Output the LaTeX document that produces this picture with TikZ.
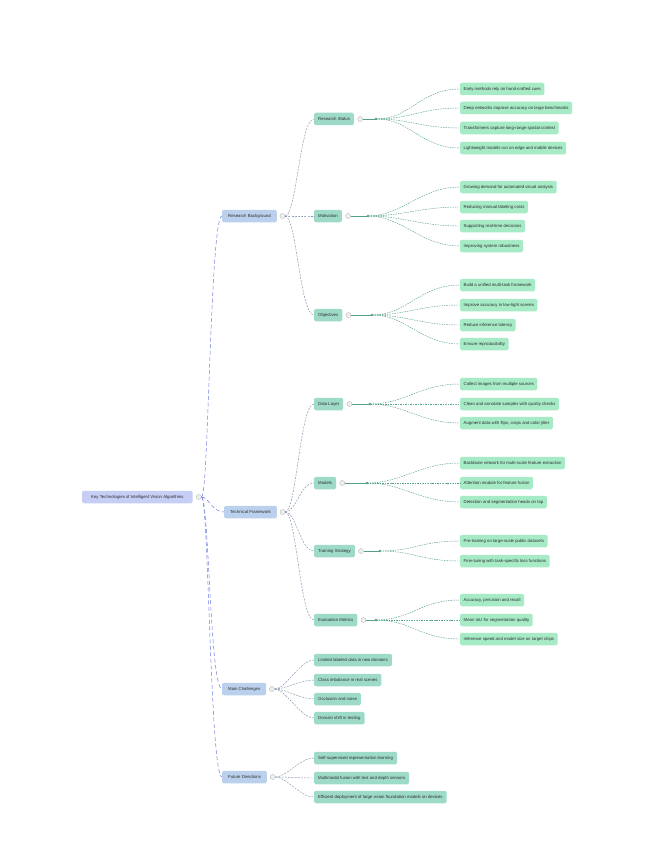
\documentclass[tikz,border=0pt]{standalone}
\usepackage{fontspec}
\setmainfont{Liberation Sans}
\usetikzlibrary{positioning,calc}
\definecolor{rootfill}{RGB}{198,206,246}
\definecolor{lvlfill}{RGB}{186,208,236}
\definecolor{midfill}{RGB}{158,218,200}
\definecolor{leaffill}{RGB}{166,234,198}
\definecolor{rootline}{RGB}{112,124,222}
\definecolor{midline}{RGB}{128,146,172}
\definecolor{leafline}{RGB}{84,160,140}
\definecolor{txt}{RGB}{45,45,45}
\tikzstyle{box}=[rounded corners=1.5pt,inner xsep=3.5pt,minimum height=12.5pt,anchor=west,font=\fontsize{4.3}{5}\selectfont,text=txt]
\tikzstyle{Rbox}=[box,fill=rootfill,inner xsep=9pt]
\tikzstyle{Tbox}=[box,fill=lvlfill,inner xsep=6pt]
\tikzstyle{Mbox}=[box,fill=midfill,inner xsep=4pt]
\tikzstyle{Lbox}=[box,fill=leaffill]
\tikzstyle{knob}=[circle,draw=gray!55,fill=gray!12,inner sep=0pt,minimum size=5pt,line width=0.4pt]
\tikzstyle{rootedge}=[rootline,line width=0.5pt,dash pattern=on 4pt off 2.5pt]
\tikzstyle{midedge}=[midline,line width=0.45pt,dash pattern=on 2pt off 1.2pt]
\tikzstyle{leafedge}=[leafline,line width=0.45pt,dash pattern=on 1.5pt off 1pt]

\begin{document}
\begin{tikzpicture}[x=1pt,y=-1pt]
\useasboundingbox (0,0) rectangle (655,848);

% root
\node[Rbox] (root) at (82,497) {Key Technologies of Intelligent Vision Algorithms};
\node[knob] (rk) at ([xshift=6pt]root.east) {};

% first level
\node[Tbox] (bg) at (222,216) {Research Background};
\node[Tbox] (fw) at (224,512) {Technical Framework};
\node[Tbox] (ch) at (222,689) {Main Challenges};
\node[Tbox] (fd) at (222,777) {Future Directions};
\foreach \n in {bg,fw,ch,fd}{
  \node[knob] (\n-k) at ([xshift=5.5pt]\n.east) {};
  \draw[rootedge] (rk) .. controls +(10,0) and +(-12,0) .. (\n.west);
}

% second level
\node[Mbox] (st) at (314,119) {Research Status};
\node[Mbox] (mo) at (314,216) {Motivation};
\node[Mbox] (ob) at (314,315) {Objectives};
\node[Mbox] (dl) at (314,404) {Data Layer};
\node[Mbox] (md) at (314,483) {Models};
\node[Mbox] (tr) at (314,551) {Training Strategy};
\node[Mbox] (ev) at (314,620) {Evaluation Metrics};
\foreach \n/\p in {st/bg,mo/bg,ob/bg,dl/fw,md/fw,tr/fw,ev/fw}{
  \node[knob] (\n-k) at ([xshift=6pt]\n.east) {};
  \draw[midedge] (\p-k) .. controls +(14,0) and +(-14,0) .. (\n.west);
}

% fan points
\foreach \n/\x/\y in {st/376/119,mo/368/216,ob/372/315,dl/370/404,md/367/483,tr/380/551,ev/376/620}{
  \coordinate (\n-f) at (\x,\y);
  \draw[leafline,line width=0.5pt] (\n-k) -- (\n-f);
  \fill[leafline] (\n-f) circle (1.3pt);
}

% third level
\foreach \y/\t [count=\i] in {89/{Early methods rely on hand-crafted cues},108/{Deep networks improve accuracy on large benchmarks},128/{Transformers capture long-range spatial context},148/{Lightweight models run on edge and mobile devices}}{
  \node[Lbox] (st\i) at (460,\y) {\t};
  \draw[leafedge] (st-f) .. controls +(35,0) and +(-40,0) .. (st\i.west);
}
\foreach \y/\t [count=\i] in {187/{Growing demand for automated visual analysis},207/{Reducing manual labeling costs},226/{Supporting real-time decisions},246/{Improving system robustness}}{
  \node[Lbox] (mo\i) at (460,\y) {\t};
  \draw[leafedge] (mo-f) .. controls +(35,0) and +(-40,0) .. (mo\i.west);
}
\foreach \y/\t [count=\i] in {285/{Build a unified multi-task framework},305/{Improve accuracy in low-light scenes},325/{Reduce inference latency},344/{Ensure reproducibility}}{
  \node[Lbox] (ob\i) at (460,\y) {\t};
  \draw[leafedge] (ob-f) .. controls +(35,0) and +(-40,0) .. (ob\i.west);
}
\foreach \y/\t [count=\i] in {384/{Collect images from multiple sources},404/{Clean and annotate samples with quality checks},423/{Augment data with flips, crops and color jitter}}{
  \node[Lbox] (dl\i) at (460,\y) {\t};
  \draw[leafedge] (dl-f) .. controls +(35,0) and +(-40,0) .. (dl\i.west);
}
\foreach \y/\t [count=\i] in {463/{Backbone network for multi-scale feature extraction},483/{Attention module for feature fusion},502/{Detection and segmentation heads on top}}{
  \node[Lbox] (md\i) at (460,\y) {\t};
  \draw[leafedge] (md-f) .. controls +(35,0) and +(-40,0) .. (md\i.west);
}
\foreach \y/\t [count=\i] in {541/{Pre-training on large-scale public datasets},561/{Fine-tuning with task-specific loss functions}}{
  \node[Lbox] (tr\i) at (460,\y) {\t};
  \draw[leafedge] (tr-f) .. controls +(35,0) and +(-40,0) .. (tr\i.west);
}
\foreach \y/\t [count=\i] in {600/{Accuracy, precision and recall},620/{Mean IoU for segmentation quality},639/{Inference speed and model size on target chips}}{
  \node[Lbox] (ev\i) at (460,\y) {\t};
  \draw[leafedge] (ev-f) .. controls +(35,0) and +(-40,0) .. (ev\i.west);
}

% leaves of the last two branches
\foreach \y/\t [count=\i] in {660/{Limited labeled data in new domains},680/{Class imbalance in real scenes},699/{Occlusion and noise},718/{Domain shift in testing}}{
  \node[Mbox] (ch\i) at (314,\y) {\t};
  \draw[midedge] (ch-k) .. controls +(14,0) and +(-14,0) .. (ch\i.west);
}
\foreach \y/\t [count=\i] in {758/{Self-supervised representation learning},778/{Multimodal fusion with text and depth sensors},797/{Efficient deployment of large vision foundation models on devices}}{
  \node[Mbox] (fd\i) at (314,\y) {\t};
  \draw[midedge] (fd-k) .. controls +(14,0) and +(-14,0) .. (fd\i.west);
}

\end{tikzpicture}
\end{document}
